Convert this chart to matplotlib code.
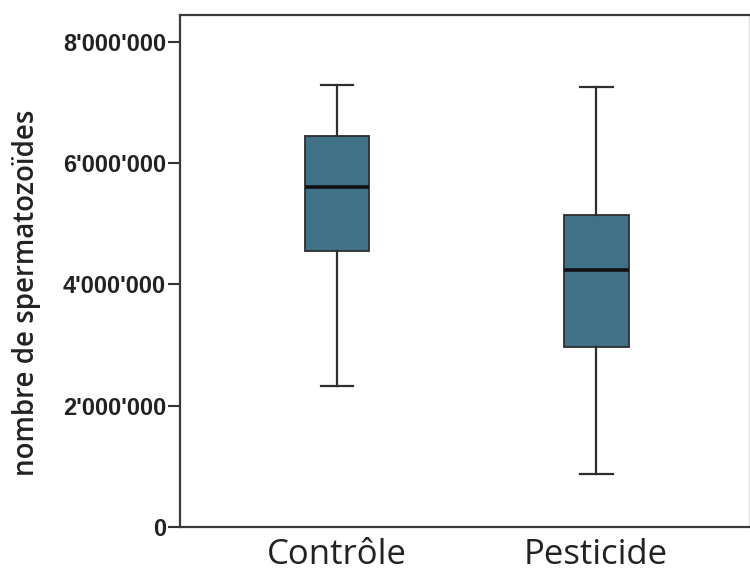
import matplotlib
matplotlib.use("Agg")
import matplotlib.pyplot as plt
from matplotlib.ticker import FuncFormatter

# box statistics
groups  = ['Contrôle', 'Pesticide']
whislo  = [2.33e6, 0.88e6]
q1      = [4.55e6, 2.97e6]
med     = [5.61e6, 4.24e6]
q3      = [6.45e6, 5.14e6]
whishi  = [7.28e6, 7.25e6]
yticks  = [0, 2e6, 4e6, 6e6, 8e6]

stats = []
for i, g in enumerate(groups):
    stats.append(dict(label=g, whislo=whislo[i], q1=q1[i], med=med[i],
                      q3=q3[i], whishi=whishi[i], fliers=[]))

fig = plt.figure(figsize=(7.5, 5.73), dpi=100)
ax = fig.add_axes([0.24, 0.0803, 0.7587, 0.8935])

ax.bxp(stats, positions=[1, 2], widths=0.25, patch_artist=True,
       showfliers=False,
       boxprops=dict(facecolor='#3f7287', edgecolor='#2e2e2e', linewidth=1.3),
       medianprops=dict(color='#111111', linewidth=2.6),
       whiskerprops=dict(color='#2e2e2e', linewidth=1.6),
       capprops=dict(color='#2e2e2e', linewidth=1.6),
       capwidths=0.127)

ax.set_xlim(0.394, 2.59)
ax.set_ylim(0, 8.44e6)
ax.set_yticks(yticks)
ax.yaxis.set_major_formatter(FuncFormatter(lambda v, p: f"{int(v):,}".replace(",", "'")))

for lab in ax.get_yticklabels():
    lab.set_fontfamily('Liberation Sans')
    lab.set_fontweight('bold')
    lab.set_fontsize(17)
    lab.set_color('#222222')
for lab in ax.get_xticklabels():
    lab.set_fontfamily('Open Sans')
    lab.set_fontsize(25)
    lab.set_color('#222222')

ax.tick_params(axis='y', length=9, width=1.5, color='#333333', pad=1)
ax.tick_params(axis='x', length=0, pad=8)
ax.set_ylabel('nombre de spermatozoïdes', fontfamily='Open Sans', fontsize=20,
              fontweight='semibold', color='#222222')
ax.yaxis.set_label_coords(-0.245, 0.457)

for s in ['left', 'top', 'bottom']:
    ax.spines[s].set_color('#3a3a3a')
    ax.spines[s].set_linewidth(1.6)
ax.spines['right'].set_color('#dddddd')
ax.spines['right'].set_linewidth(1.0)

fig.savefig('out.png', dpi=100)
